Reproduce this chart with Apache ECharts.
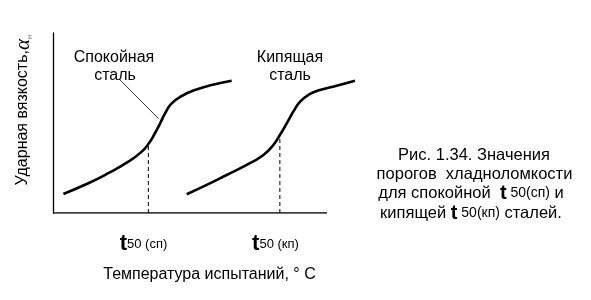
<!DOCTYPE html>
<html>
<head>
<meta charset="utf-8">
<script src="https://cdn.jsdelivr.net/npm/echarts@6/dist/echarts.min.js"></script>
<style>
  html, body { margin: 0; padding: 0; background: #fff; }
  #chart { width: 591px; height: 300px; }
</style>
</head>
<body>
<div id="chart"></div>
<script>
// Impact toughness vs test temperature (relative units, 0..100 on both axes)
const killedTemp   = [3.8, 12.9, 20.2, 27.5, 32.4, 34.8, 37.2, 39.1, 40.9, 43.3, 47.0, 51.8, 57.9, 65.2];
const killedTough  = [10.6, 16.5, 22.1, 28.5, 34.1, 38.3, 44.3, 49.8, 55.4, 60.9, 65.0, 68.3, 71.1, 73.5];
const rimmedTemp   = [48.8, 56.1, 63.4, 70.7, 76.8, 80.4, 82.8, 85.3, 87.7, 90.1, 93.2, 97.4, 103.5, 110.2];
const rimmedTough  = [10.4, 15.6, 21.1, 26.7, 32.2, 37.8, 43.3, 49.8, 56.3, 61.8, 65.6, 68.3, 70.7, 73.5];

// Drawn extent of the temperature axis line
const axisTempRange = [0, 100];

// Transition thresholds t50 and toughness at those points
const t50Temp  = [34.8, 82.8];
const t50Tough = [38.3, 43.3];

// Leader from the "Спокойная сталь" caption to its curve
const leaderTemp  = [24.5, 38.4];
const leaderTough = [73.9, 52.6];

const zip = (xs, ys) => xs.map((x, i) => [x, ys[i]]);

const FONT = "'Liberation Sans', Arial, sans-serif";
const chart = echarts.init(document.getElementById('chart'), null, { renderer: 'canvas' });

const curveStyle = { color: '#000', width: 2.6 };
const dashSeries = t50Temp.map((t, i) => ({
  type: 'line',
  data: [[t, 0], [t, t50Tough[i]]],
  symbol: 'none',
  silent: true,
  lineStyle: { color: '#000', width: 1, type: [4, 3] },
  z: 1
}));

// x scale spans 0..120 so the rimmed-steel curve can run past the axis line
const X_MAX = 120;

chart.setOption({
  animation: false,
  backgroundColor: '#fff',
  grid: { left: 53, right: 591 - 53 - 274 * X_MAX / 100, top: 33, bottom: 87 },
  xAxis: {
    type: 'value', min: 0, max: X_MAX,
    axisLine: { show: false },
    axisTick: { show: false }, axisLabel: { show: false }, splitLine: { show: false }
  },
  yAxis: {
    type: 'value', min: 0, max: 100,
    axisLine: { show: true, lineStyle: { color: '#000', width: 1.3 } },
    axisTick: { show: false }, axisLabel: { show: false }, splitLine: { show: false }
  },
  series: [
    {
      type: 'line', data: axisTempRange.map(t => [t, 0]), symbol: 'none', silent: true,
      lineStyle: { color: '#000', width: 1.3 }, z: 4
    },
    {
      name: 'Спокойная сталь', type: 'line', data: zip(killedTemp, killedTough),
      smooth: 0.5, symbol: 'none', clip: false, lineStyle: curveStyle, z: 3
    },
    {
      name: 'Кипящая сталь', type: 'line', data: zip(rimmedTemp, rimmedTough),
      smooth: 0.5, symbol: 'none', clip: false, lineStyle: curveStyle, z: 3
    },
    {
      type: 'line', data: zip(leaderTemp, leaderTough), symbol: 'none', silent: true,
      lineStyle: { color: '#000', width: 0.8 }, z: 2
    },
    ...dashSeries
  ],
  graphic: [
    // Axis title (vertical)
    {
      type: 'text', x: 23, y: 110, rotation: Math.PI / 2,
      style: {
        text: '{a|Ударная вязкость,}{b|α}{c|н}',
        align: 'center', verticalAlign: 'middle',
        rich: {
          a: { fontFamily: FONT, fontSize: 16, fill: '#000' },
          b: { fontFamily: "'Liberation Serif', serif", fontStyle: 'italic', fontSize: 21, fill: '#000' },
          c: { fontFamily: FONT, fontSize: 8, fill: '#3a9a2a', verticalAlign: 'bottom', padding: [8, 0, 0, 0] }
        }
      }
    },
    // Curve captions
    { type: 'text', x: 114, y: 58, style: { text: 'Спокойная', font: '16px ' + FONT, fill: '#000', align: 'center', verticalAlign: 'middle' } },
    { type: 'text', x: 115, y: 76, style: { text: 'сталь', font: '16px ' + FONT, fill: '#000', align: 'center', verticalAlign: 'middle' } },
    { type: 'text', x: 290, y: 58, style: { text: 'Кипящая', font: '16px ' + FONT, fill: '#000', align: 'center', verticalAlign: 'middle' } },
    { type: 'text', x: 290, y: 76, style: { text: 'сталь', font: '16px ' + FONT, fill: '#000', align: 'center', verticalAlign: 'middle' } },
    // Threshold labels under the axis
    {
      type: 'text', x: 143.5, y: 244,
      style: {
        text: '{t|t}{n|50 (сп)}', align: 'center', verticalAlign: 'middle',
        rich: { t: { fontFamily: FONT, fontWeight: 'bold', fontSize: 22, fill: '#000' },
                n: { fontFamily: FONT, fontSize: 13, fill: '#000' } }
      }
    },
    {
      type: 'text', x: 275.5, y: 244,
      style: {
        text: '{t|t}{n|50 (кп)}', align: 'center', verticalAlign: 'middle',
        rich: { t: { fontFamily: FONT, fontWeight: 'bold', fontSize: 22, fill: '#000' },
                n: { fontFamily: FONT, fontSize: 13, fill: '#000' } }
      }
    },
    // X axis title
    { type: 'text', x: 209.5, y: 275, style: { text: 'Температура испытаний, ° С', font: '16px ' + FONT, fill: '#000', align: 'center', verticalAlign: 'middle' } },
    // Figure caption
    { type: 'text', x: 474, y: 155, style: { text: 'Рис. 1.34. Значения', font: '16.5px ' + FONT, fill: '#000', align: 'center', verticalAlign: 'middle' } },
    { type: 'text', x: 474.5, y: 174, style: { text: 'порогов  хладноломкости', font: '16.5px ' + FONT, fill: '#000', align: 'center', verticalAlign: 'middle' } },
    {
      type: 'text', x: 471, y: 193,
      style: {
        text: '{r|для спокойной  }{t|t}{s| 50(сп)}{r| и}', align: 'center', verticalAlign: 'middle',
        rich: { r: { fontFamily: FONT, fontSize: 16.5, fill: '#000' },
                t: { fontFamily: FONT, fontWeight: 'bold', fontSize: 20, fill: '#000' },
                s: { fontFamily: FONT, fontSize: 14, fill: '#000' } }
      }
    },
    {
      type: 'text', x: 471, y: 213,
      style: {
        text: '{r|кипящей }{t|t}{s| 50(кп)}{r| сталей.}', align: 'center', verticalAlign: 'middle',
        rich: { r: { fontFamily: FONT, fontSize: 16.5, fill: '#000' },
                t: { fontFamily: FONT, fontWeight: 'bold', fontSize: 20, fill: '#000' },
                s: { fontFamily: FONT, fontSize: 14, fill: '#000' } }
      }
    }
  ]
});
</script>
</body>
</html>
